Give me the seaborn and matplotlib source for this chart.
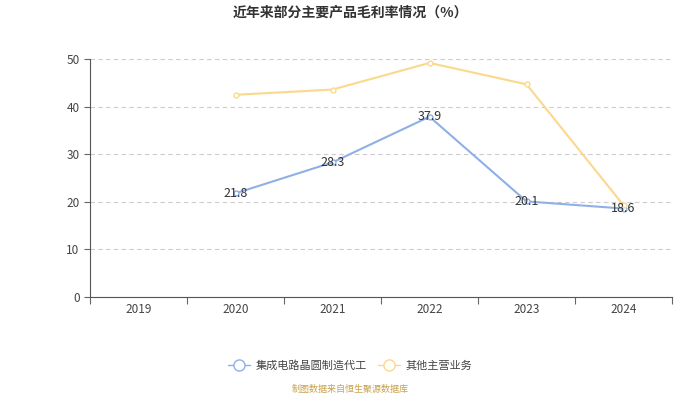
import matplotlib.pyplot as plt
import seaborn as sns
import pandas as pd
from matplotlib.lines import Line2D

years = ['2019', '2020', '2021', '2022', '2023', '2024']
wafer_margin = [None, 21.8, 28.3, 37.9, 20.1, 18.6]
other_margin = [None, 42.5, 43.6, 49.2, 44.7, 19.3]
series_names = ['集成电路晶圆制造代工', '其他主营业务']
colors = ['#8fb0e6', '#fad98c']

sns.set_style('white')
plt.rcParams['font.family'] = ['Noto Sans CJK SC', 'DejaVu Sans']

rows = []
for i, y in enumerate(years):
    for name, vals in zip(series_names, [wafer_margin, other_margin]):
        if vals[i] is not None:
            rows.append({'pos': i, 'year': y, 'series': name, 'value': vals[i]})
df = pd.DataFrame(rows)

fig = plt.figure(figsize=(7, 3.94), dpi=100)
ax = fig.add_axes([0.1286, 0.246, 0.8314, 0.604])

sns.lineplot(data=df, x='pos', y='value', hue='series', hue_order=series_names,
             palette=colors, marker='o', markersize=3.5, markerfacecolor='white',
             markeredgewidth=1, linewidth=1.5, legend=False, ax=ax)
for line, c in zip(ax.lines, colors):
    line.set_markeredgecolor(c)

# value labels for the first series
for i, v in enumerate(wafer_margin):
    if v is not None:
        ax.text(i, v, f'{v:.1f}', ha='center', va='center', fontsize=9, color='#333333')

ax.set_xlim(-0.5, len(years) - 0.5)
ax.set_ylim(0, 50)
ax.set_yticks(range(0, 51, 10))
ax.set_xticks(range(len(years)))
ax.set_xticklabels(years)
ax.set_xticks([i - 0.5 for i in range(len(years) + 1)], minor=True)
ax.tick_params(axis='x', which='major', bottom=True, length=0, pad=4, labelsize=8.5, colors='#444444')
ax.tick_params(axis='x', which='minor', bottom=True, length=5, width=0.8, color='#666666', direction='out')
ax.tick_params(axis='y', left=True, length=4, width=0.8, color='#666666', labelsize=8.5, labelcolor='#444444')
ax.set_xlabel('')
ax.set_ylabel('')
ax.yaxis.grid(True, linestyle=(0, (4, 3)), color='#cccccc', linewidth=0.8)
for s in ['top', 'right']:
    ax.spines[s].set_visible(False)
ax.spines['left'].set_color('#555555')
ax.spines['bottom'].set_color('#555555')

fig.suptitle('近年来部分主要产品毛利率情况（%）', y=0.985, fontsize=10, fontweight='bold', color='#333333')

handles = [Line2D([0], [0], color=c, marker='o', markersize=8, markerfacecolor='white',
                  markeredgecolor=c, linewidth=1) for c in colors]
fig.legend(handles, series_names, loc='center', bbox_to_anchor=(0.5, 0.073), ncol=2,
           frameon=False, fontsize=8, handlelength=2.0, handletextpad=0.5,
           columnspacing=1.0, labelcolor='#444444')

fig.text(0.5, 0.006, '制图数据来自恒生聚源数据库', ha='center', fontsize=6.5, color='#c8a04a')

fig.savefig('out.png', dpi=100)
